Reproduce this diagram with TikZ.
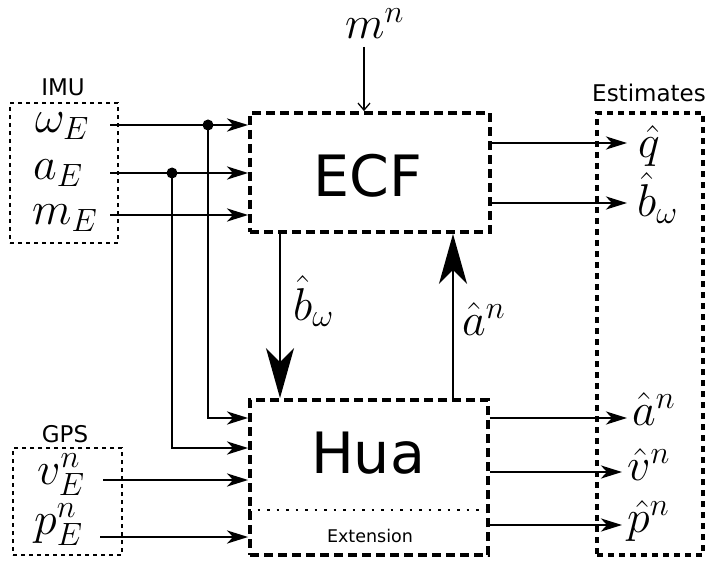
\RequirePackage{fix-cm}
\documentclass[tikz,border=0pt]{standalone}
\usepackage{fontspec}
\setsansfont{DejaVu Sans}
\usetikzlibrary{arrows.meta}
\newcommand{\bigtxt}{\fontsize{57pt}{60pt}\selectfont\sffamily}
\newcommand{\symtxt}{\fontsize{46pt}{48pt}\selectfont}
\newcommand{\grptxt}{\fontsize{23pt}{26pt}\selectfont\sffamily}
\newcommand{\exttxt}{\fontsize{17.5pt}{20pt}\selectfont\sffamily}
\tikzset{
  % filter blocks
  filter/.style={draw, line width=3.8pt, dash pattern=on 9pt off 5pt, inner sep=0pt},
  % estimates group
  outgrp/.style={draw, line width=3.8pt, dash pattern=on 6pt off 5pt, inner sep=0pt},
  % sensor groups
  sensor/.style={draw, line width=1.8pt, dash pattern=on 4pt off 4pt, inner sep=0pt},
  % math symbols
  sym/.style={font=\symtxt, inner sep=0pt, anchor=base west},
  % arrows
  arr/.style={-{Stealth[length=21pt,width=13pt,inset=6pt]}, line width=2.7pt},
  bigarr/.style={-{Stealth[length=50pt,width=28pt,inset=14pt]}, line width=2.7pt},
  thinarr/.style={-{Straight Barb[length=7pt,width=12pt]}, line width=1.3pt},
}

\begin{document}
\begin{tikzpicture}[x=1pt, y=-1pt]
  \useasboundingbox (0,0) rectangle (712,564);

  % blocks
  \node[filter, minimum width=240pt, minimum height=119pt] (ecf) at (370,172.5) {};
  \node[filter, minimum width=238pt, minimum height=155pt] (hua) at (369,477.5) {};
  \node[outgrp, minimum width=106pt, minimum height=442pt] (est) at (650,334) {};
  \node[sensor, minimum width=108pt, minimum height=140pt] (imu) at (64,173) {};
  \node[sensor, minimum width=109pt, minimum height=107pt] (gps) at (67.5,501.5) {};

  \node[font=\bigtxt, anchor=base] (ecftxt) at (368,197) {ECF};
  \node[font=\bigtxt, anchor=base] (huatxt) at (368,473) {Hua};
  \node[font=\exttxt, anchor=base] (exttxt) at (370,542) {Extension};
  \draw[line width=2pt, dash pattern=on 2.5pt off 7pt]
    ([yshift=-32.5pt]hua.west) -- ([yshift=-32.5pt]hua.east);

  \node[font=\grptxt, anchor=base] (imutxt) at (63,96) {IMU};
  \node[font=\grptxt, anchor=base] (gpstxt) at (65,442) {GPS};
  \node[font=\grptxt, anchor=base] (esttxt) at (649,102) {Estimates};

  % inputs
  \node[sym] (wE) at (35,133) {$\omega_E$};
  \node[sym] (aE) at (33,180) {$a_E$};
  \node[sym] (mE) at (32,225) {$m_E$};
  \node[sym] (vE) at (37,484) {$v_E^n$};
  \node[sym] (pE) at (34,534) {$p_E^n$};
  \node[sym] (mn) at (345,39) {$m^n$};

  % outputs
  \node[sym] (q)  at (638,158) {$\hat{q}$};
  \node[sym] (bw) at (637,217) {$\hat{b}_\omega$};
  \node[sym] (an) at (632,425) {$\hat{a}^n$};
  \node[sym] (vn) at (627,480) {$\hat{v}^n$};
  \node[sym] (pn) at (627,532) {$\hat{p}^n$};

  % feedback labels
  \node[sym] (bwl) at (293,320) {$\hat{b}_\omega$};
  \node[sym] (anl) at (462,335) {$\hat{a}^n$};

  \coordinate (iw) at (110,125);
  \coordinate (ia) at (110,173);
  \coordinate (im) at (110,215);
  \coordinate (iv) at (103,480);
  \coordinate (ip) at (100,537);
  \coordinate (jw) at (208,125);
  \coordinate (ja) at (172,173);
  \coordinate (imn) at (364,47);

  \draw[arr] (iw) -- (iw -| ecf.west);
  \draw[arr] (ia) -- (ia -| ecf.west);
  \draw[arr] (im) -- (im -| ecf.west);
  \draw[arr] (jw) |- ([yshift=59.5pt]hua.west);
  \draw[arr] (ja) |- ([yshift=29.5pt]hua.west);
  \draw[arr] (iv) -- (iv -| hua.west);
  \draw[arr] (ip) -- (ip -| hua.west);
  \fill (jw) circle (5.5);
  \fill (ja) circle (5.5);
  \draw[thinarr] (imn) -- ([xshift=-6pt]ecf.north);

  % between the filters
  \draw[bigarr] ([xshift=-90pt]ecf.south) -- ([xshift=-89pt]hua.north);
  \draw[bigarr] ([xshift=84pt]hua.north) -- ([xshift=83pt]ecf.south);

  \coordinate (oq) at (627,143);
  \coordinate (ob) at (627,203);
  \coordinate (oa) at (627,418);
  \coordinate (ov) at (622,472);
  \coordinate (op) at (622,525);
  \draw[arr] (ecf.east |- oq) -- (oq);
  \draw[arr] (ecf.east |- ob) -- (ob);
  \draw[arr] (hua.east |- oa) -- (oa);
  \draw[arr] (hua.east |- ov) -- (ov);
  \draw[arr] (hua.east |- op) -- (op);
\end{tikzpicture}
\end{document}
